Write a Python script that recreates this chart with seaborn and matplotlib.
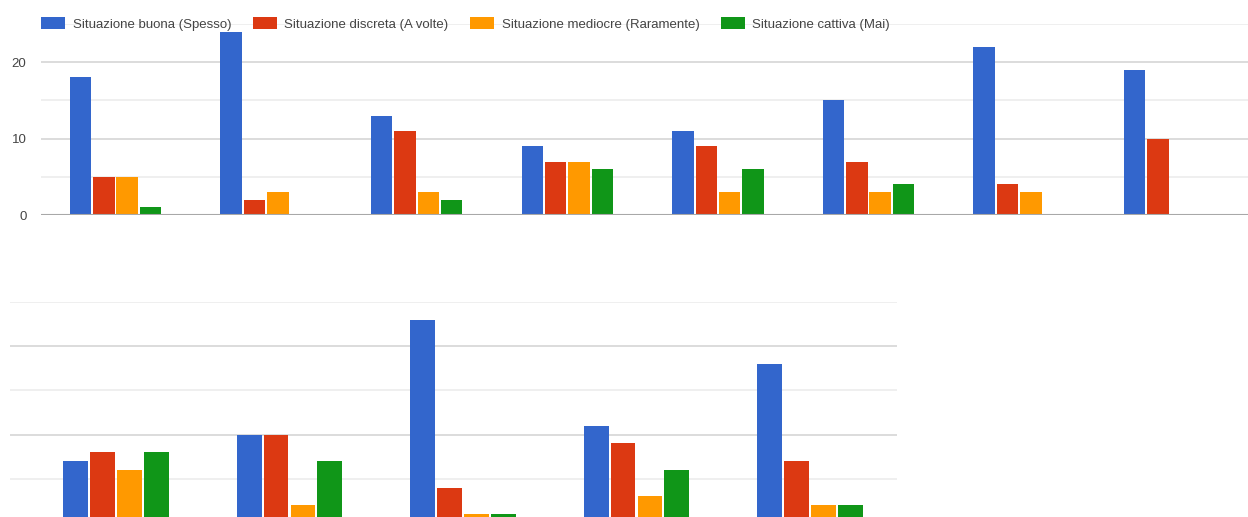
import matplotlib
matplotlib.use("Agg")
import matplotlib.pyplot as plt
import seaborn as sns
import pandas as pd

# Series labels and colours
situazioni = [
    "Situazione buona (Spesso)",
    "Situazione discreta (A volte)",
    "Situazione mediocre (Raramente)",
    "Situazione cattiva (Mai)",
]
colori = ["#3366CC", "#DC3912", "#FF9900", "#109618"]

# Upper chart: eight questions
domande_sup = ["D1", "D2", "D3", "D4", "D5", "D6", "D7", "D8"]
buona_sup = [18, 24, 13, 9, 11, 15, 22, 19]
discreta_sup = [5, 2, 11, 7, 9, 7, 4, 10]
mediocre_sup = [5, 3, 3, 7, 3, 3, 3, 0]
cattiva_sup = [1, 0, 2, 6, 6, 4, 0, 0]

# Lower chart: five questions
domande_inf = ["D9", "D10", "D11", "D12", "D13"]
buona_inf = [7, 10, 23, 11, 18]
discreta_inf = [8, 10, 4, 9, 7]
mediocre_inf = [6, 2, 1, 3, 2]
cattiva_inf = [8, 7, 1, 6, 2]


def tabella(domande, serie):
    righe = []
    for nome, valori in zip(situazioni, serie):
        for d, v in zip(domande, valori):
            righe.append({"domanda": d, "situazione": nome, "valore": v})
    return pd.DataFrame(righe)


df_sup = tabella(domande_sup, [buona_sup, discreta_sup, mediocre_sup, cattiva_sup])
df_inf = tabella(domande_inf, [buona_inf, discreta_inf, mediocre_inf, cattiva_inf])

sns.set_theme(style="white")
plt.rcParams["font.family"] = ["Liberation Sans", "DejaVu Sans"]

W, H = 1248, 517
fig = plt.figure(figsize=(W / 100, H / 100), dpi=100)


def px_axes(x0, x1, y_top, y_bottom):
    return fig.add_axes([x0 / W, (H - y_bottom) / H, (x1 - x0) / W, (y_bottom - y_top) / H])


ax1 = px_axes(41, 1248, 24, 215)
ax2 = px_axes(10, 897, 302, 523)


def stile(ax, etichette):
    ax.set_ylim(0, 25)
    ax.set_yticks([0, 10, 20])
    ax.set_yticks([5, 15, 25], minor=True)
    ax.grid(which="major", axis="y", color="#d9d9d9", lw=1.3)
    ax.grid(which="minor", axis="y", color="#eeeeee", lw=1.3)
    ax.grid(which="major", axis="x", visible=False)
    ax.set_axisbelow(True)
    ax.tick_params(axis="both", which="both", length=0)
    ax.set_xticks([])
    ax.set_xlabel("")
    ax.set_ylabel("")
    for s in ax.spines.values():
        s.set_visible(False)
    if etichette:
        ax.tick_params(axis="y", labelsize=9.5, labelcolor="#444444", pad=10.5)
    else:
        ax.set_yticklabels([])


sns.barplot(data=df_sup, x="domanda", y="valore", hue="situazione",
            palette=colori, saturation=1, width=0.62, gap=0.08,
            linewidth=0, errorbar=None, ax=ax1)
ax1.set_xlim(-0.495, 7.52)
stile(ax1, True)
ax1.axhline(0, color="#a8a8a8", lw=1.5, zorder=3)

sns.barplot(data=df_inf, x="domanda", y="valore", hue="situazione",
            palette=colori, saturation=1, width=0.62, gap=0.08,
            linewidth=0, errorbar=None, legend=False, ax=ax2)
ax2.set_xlim((10 - 116) / 173.5, (897 - 116) / 173.5)
stile(ax2, False)

sns.move_legend(
    ax1, "center left",
    bbox_to_anchor=(41 / W, (H - 24) / H), bbox_transform=fig.transFigure,
    ncol=4, frameon=False, title=None, fontsize=9.5,
    handlelength=1.82, handleheight=1.0, handletextpad=0.6,
    columnspacing=1.6, borderpad=0, borderaxespad=0,
)
for t in ax1.get_legend().get_texts():
    t.set_color("#444444")

fig.savefig("out.png", dpi=100, facecolor="white")
